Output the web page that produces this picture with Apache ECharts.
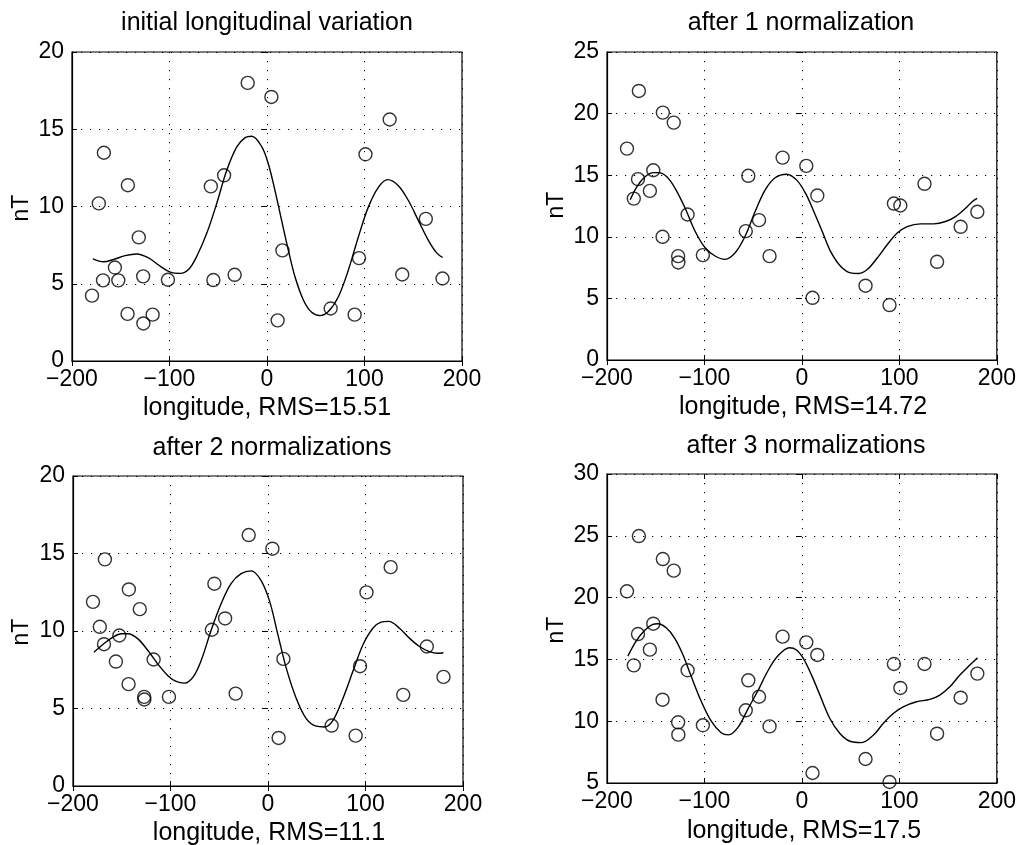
<!DOCTYPE html>
<html>
<head>
<meta charset="utf-8">
<script src="https://cdn.jsdelivr.net/npm/echarts@6/dist/echarts.min.js"></script>
<style>
html,body{margin:0;padding:0;background:#fff;}
#c{width:1019px;height:845px;}
</style>
</head>
<body>
<div id="c"></div>
<script>
// ---- data ----
const lon = [-179.5,-172.5,-168.2,-167.3,-156,-152.5,-142.7,-143,-131.5,-127,-126.8,-117.3,-101.6,-57.6,-55,-44,-33.2,-19.8,4.5,10.9,15.8,65.3,89.9,94.4,101,125.8,138.7,162.9,180];

const values1 = [4.23,10.2,5.22,13.48,6.05,5.22,11.38,3.05,8.0,5.48,2.43,3.0,5.26,11.3,5.24,12.02,5.58,18.0,17.09,2.63,7.16,3.4,3.0,6.66,13.38,15.63,5.6,9.2,5.34];
const values2 = [17.16,13.1,14.68,21.84,13.73,15.4,20.08,10.0,19.27,8.43,7.92,11.81,8.51,10.46,14.95,11.35,8.43,16.43,15.76,5.05,13.35,6.03,4.46,12.7,12.54,14.3,7.97,10.81,12.03];
const values3 = [11.88,10.27,9.15,14.62,8.03,9.71,12.68,6.57,11.41,5.75,5.58,8.16,5.75,10.08,13.05,10.81,5.96,16.19,15.31,3.1,8.2,3.9,3.25,7.73,12.49,14.12,5.88,9.0,7.04];
const values4 = [20.51,14.52,17.05,24.98,15.79,17.89,23.12,11.74,22.18,9.91,8.91,14.12,9.67,10.88,13.31,11.98,9.58,16.84,16.38,5.81,15.36,6.94,5.08,14.63,12.69,14.63,8.99,11.9,13.85];

const curve1X = [-178.6,-167.7,-157.4,-145.5,-133.5,-121.5,-109.6,-99.3,-89,-80.5,-72,-61.7,-51.5,-41.2,-31,-22.4,-15.6,-5.3,1.4,8.2,15,21.9,28.7,37.3,45.8,54.4,62.9,73.2,83.4,93.7,103.9,114.2,123.8,134.7,145,155.2,165.5,174,180.2];
const curve1Y = [6.61,6.42,6.57,6.82,6.93,6.67,6.14,5.75,5.67,5.92,6.78,8.28,10.21,12.36,13.86,14.46,14.55,13.86,12.75,11.03,9.1,7.17,5.45,3.95,3.15,2.94,3.2,4.16,5.88,8.03,9.96,11.24,11.74,11.35,10.39,9.1,7.81,7.0,6.7];

const curve2X = [-176.2,-169.4,-160.9,-152.3,-147.2,-138.6,-130.1,-119.8,-109.6,-99.3,-89.1,-78.8,-68.5,-58.3,-48,-37.8,-27.5,-15.6,-5.3,3.8,12.3,20.9,29.4,39.7,49.9,58.5,67,77.3,87.5,97.8,108,121.7,135.4,147.4,157.6,167.9,174.7,179.8];
const curve2Y = [13.0,14.06,14.87,15.21,15.21,14.87,13.93,12.32,10.45,9.11,8.44,8.17,8.7,10.04,12.05,13.79,14.79,15.08,14.6,13.52,12.04,10.43,8.82,7.61,7.07,7.02,7.34,8.28,9.35,10.3,10.83,11.05,11.05,11.24,11.64,12.31,12.85,13.12];

const curve3X = [-178.5,-169.3,-159,-150.5,-143.7,-133.4,-123.2,-113,-102.7,-94.2,-85.7,-77.1,-68.6,-58.4,-48.1,-37.9,-27.6,-17.4,-7.2,1.7,10.2,18.8,29,39.2,49.5,58,66.6,76.8,87,97.3,107.5,116,123.9,134.8,145,155.3,165.5,174.1,179.9];
const curve3Y = [8.63,9.13,9.6,9.82,9.82,9.49,8.74,7.87,7.12,6.75,6.64,7.01,8.09,10.03,11.76,13.06,13.7,13.88,13.27,11.91,9.75,7.59,5.65,4.35,3.86,3.81,4.24,5.65,7.38,9.1,10.18,10.57,10.62,10.18,9.54,9.0,8.67,8.56,8.6];

const curve4X = [-178.6,-170.1,-161.5,-153,-147.9,-139.3,-130.8,-122.2,-113.7,-103.4,-93.2,-82.9,-75.4,-65.8,-55.6,-45.3,-35,-24.8,-12.8,-5.5,1.4,9.9,18.5,28.7,39,49.2,61.2,73.2,83.4,93.7,103.9,117.6,131.3,141.5,151.8,162.1,172.3,180.2];
const curve4Y = [15.27,16.48,17.34,17.83,17.88,17.56,16.75,15.4,13.65,11.63,10.02,9.07,8.89,9.48,10.96,12.44,14.06,15.27,15.94,15.76,15.08,13.73,12.11,10.22,9.0,8.38,8.27,8.86,9.81,10.62,11.16,11.57,11.76,12.11,12.78,13.73,14.54,15.14];

const titles = ['initial longitudinal variation','after 1 normalization','after 2 normalizations','after 3 normalizations'];
const xLabels = ['longitude, RMS=15.51','longitude, RMS=14.72','longitude, RMS=11.1','longitude, RMS=17.5'];
const yLabel = 'nT';
const xRange = [-200, 200, 100];
const yRanges = [[0,20,5],[0,25,5],[0,20,5],[5,30,5]];

// ---- layout ----
const grids = [
  {left:72, top:52, width:390, height:309},
  {left:607, top:52, width:390, height:308},
  {left:73, top:476, width:390, height:310},
  {left:607, top:474, width:390, height:309}
];
const titlePos = [[267,23],[801,23],[272,448],[806,446]];
const xLabelPos = [[267,408],[803,407],[269,833],[804,831]];
const yLabelPos = [[22,208],[557,205],[22,632],[557,630]];

const FONT = '"Liberation Sans", Arial, Helvetica, sans-serif';
const panels = [
  {v: values1, cx: curve1X, cy: curve1Y},
  {v: values2, cx: curve2X, cy: curve2Y},
  {v: values3, cx: curve3X, cy: curve3Y},
  {v: values4, cx: curve4X, cy: curve4Y}
];

const gridOpt = [], xAxes = [], yAxes = [], series = [], graphics = [];
const dotted = {color:'#000', width:1, type:[1.2,7.8]};

panels.forEach((p, i) => {
  const g = grids[i];
  gridOpt.push(Object.assign({show:true, borderColor:'#000', borderWidth:1.2, backgroundColor:'#fff', containLabel:false}, g));
  const xa = {
    type:'value', gridIndex:i, min:xRange[0], max:xRange[1], interval:xRange[2],
    axisLine:{show:true, onZero:false, lineStyle:{color:'#000', width:1.2}},
    axisTick:{show:true, inside:true, length:5, lineStyle:{color:'#000'}},
    axisLabel:{show:true, color:'#000', fontFamily:FONT, fontSize:23, margin:7,
      formatter: v => (v < 0 ? '\u2212' + Math.abs(v) : String(v))},
    splitLine:{show:true, lineStyle:dotted}
  };
  const xTop = {
    type:'value', gridIndex:i, position:'top', min:xRange[0], max:xRange[1], interval:xRange[2],
    axisLine:{show:false}, axisTick:{show:true, inside:true, length:5, lineStyle:{color:'#000'}},
    axisLabel:{show:false}, splitLine:{show:false}
  };
  const r = yRanges[i];
  const ya = {
    type:'value', gridIndex:i, min:r[0], max:r[1], interval:r[2],
    axisLine:{show:true, onZero:false, lineStyle:{color:'#000', width:1.2}},
    axisTick:{show:true, inside:true, length:5, lineStyle:{color:'#000'}},
    axisLabel:{show:true, color:'#000', fontFamily:FONT, fontSize:23, margin:8},
    splitLine:{show:true, lineStyle:dotted}
  };
  const yRight = {
    type:'value', gridIndex:i, position:'right', min:r[0], max:r[1], interval:r[2],
    axisLine:{show:false}, axisTick:{show:true, inside:true, length:5, lineStyle:{color:'#000'}},
    axisLabel:{show:false}, splitLine:{show:false}
  };
  const xIdx = xAxes.length; xAxes.push(xa, xTop);
  const yIdx = yAxes.length; yAxes.push(ya, yRight);

  series.push({
    type:'scatter', xAxisIndex:xIdx, yAxisIndex:yIdx,
    data: lon.map((x, k) => [x, p.v[k]]),
    symbol:'circle', symbolSize:13, clip:false,
    itemStyle:{color:'rgba(0,0,0,0)', borderColor:'#000', borderWidth:1.4},
    emphasis:{disabled:true}, silent:true, z:3
  });
  series.push({
    type:'line', xAxisIndex:xIdx, yAxisIndex:yIdx,
    data: p.cx.map((x, k) => [x, p.cy[k]]),
    smooth:0.35, showSymbol:false, symbol:'none',
    lineStyle:{color:'#000', width:1.4}, silent:true, z:2
  });

  graphics.push({type:'text', x:titlePos[i][0], y:titlePos[i][1],
    style:{text:titles[i], font:'25px ' + FONT, fill:'#000', align:'center', verticalAlign:'middle', textAlign:'center', textVerticalAlign:'middle'}});
  graphics.push({type:'text', x:xLabelPos[i][0], y:xLabelPos[i][1],
    style:{text:xLabels[i], font:'25px ' + FONT, fill:'#000', align:'center', verticalAlign:'middle', textAlign:'center', textVerticalAlign:'middle'}});
  graphics.push({type:'text', x:yLabelPos[i][0], y:yLabelPos[i][1], rotation:Math.PI/2,
    style:{text:yLabel, font:'23px ' + FONT, fill:'#000', align:'center', verticalAlign:'middle', textAlign:'center', textVerticalAlign:'middle'}});
});

const chart = echarts.init(document.getElementById('c'), null, {renderer:'canvas'});
chart.setOption({
  animation:false,
  backgroundColor:'#fff',
  textStyle:{fontFamily:FONT},
  grid:gridOpt, xAxis:xAxes, yAxis:yAxes, series:series, graphic:graphics
});
</script>
</body>
</html>
